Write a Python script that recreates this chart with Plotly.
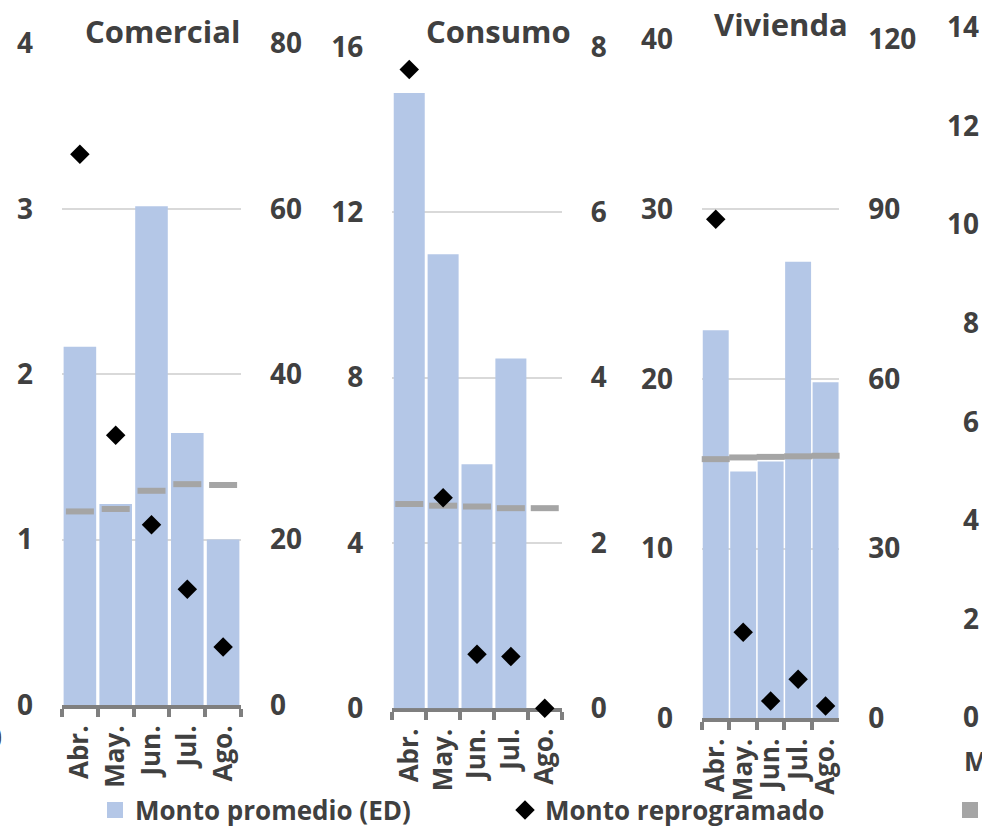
import plotly.graph_objects as go

# Month categories shared by every panel
meses = ["Abr.", "May.", "Jun.", "Jul.", "Ago."]

# Comercial
com_promedio = [43.3, 24.3, 60.3, 32.9, 20.0]   # right axis (ED)
com_reprog = [3.33, 1.63, 1.09, 0.70, 0.35]     # left axis
com_ref = [23.4, 23.7, 25.9, 26.7, 26.6]        # right axis (ED)

# Consumo
con_promedio = [7.44, 5.49, 2.95, 4.23, None]
con_reprog = [15.45, 5.09, 1.31, 1.25, 0.0]
con_ref = [2.47, 2.45, 2.44, 2.42, 2.42]

# Vivienda
viv_promedio = [68.6, 43.6, 45.4, 80.7, 59.4]
viv_reprog = [29.4, 5.07, 1.02, 2.30, 0.72]
viv_ref = [45.8, 46.1, 46.2, 46.3, 46.4]

titulos = ["Comercial", "Consumo", "Vivienda"]
rango_izq = [(4, 1), (16, 4), (40, 10)]
rango_der = [(80, 20), (8, 2), (120, 30)]

W, H = 982, 829
FONT = "Open Sans"
TXT = "#404040"
AZUL = "#B4C7E7"
GRIS = "#A5A5A5"
EJE = "#7F7F7F"

# plot boxes in pixels: left, right, top, bottom
cajas = [(62, 241, 43.3, 705), (392.3, 561.7, 46.7, 708.3), (702, 839.3, 39.3, 718.3)]
anchos = [0.91, 0.915, 0.945]
titulo_pos = [(242, 31), (573, 31), (850, 24)]


def fx(p):
    return p / W


def fy(p):
    return 1 - p / H


series = [
    (com_promedio, com_reprog, com_ref),
    (con_promedio, con_reprog, con_ref),
    (viv_promedio, viv_reprog, viv_ref),
]

fig = go.Figure()
layout = {}
annotations = []

for i, (prom, reprog, ref) in enumerate(series):
    n = i + 1
    xname = "x" if n == 1 else f"x{n}"
    ybase = "y" if n == 1 else f"y{2 * i + 1}"
    yover = f"y{2 * i + 2}"
    fig.add_trace(go.Bar(
        x=meses, y=prom, xaxis=xname, yaxis=ybase, width=anchos[i],
        marker=dict(color=AZUL, line=dict(width=0)), showlegend=False,
        name="Monto promedio (ED)"))
    fig.add_trace(go.Scatter(
        x=meses, y=ref, xaxis=xname, yaxis=ybase, mode="markers",
        marker=dict(symbol="line-ew", size=20, line=dict(width=6, color=GRIS), color=GRIS),
        showlegend=False, cliponaxis=False))
    fig.add_trace(go.Scatter(
        x=meses, y=reprog, xaxis=xname, yaxis=yover, mode="markers",
        marker=dict(symbol="diamond", size=15, color="black"),
        showlegend=False, cliponaxis=False, name="Monto reprogramado"))

    l, r, t, b = cajas[i]
    xkey = "xaxis" if n == 1 else f"xaxis{n}"
    ybkey = "yaxis" if n == 1 else f"yaxis{2 * i + 1}"
    yokey = f"yaxis{2 * i + 2}"
    layout[xkey] = dict(
        domain=[fx(l), fx(r)], anchor=ybase, type="category", range=[-0.5, 4.5],
        tickmode="array", tickvals=meses, ticktext=meses,
        showline=True, linewidth=4, linecolor=EJE, ticks="outside",
        tickson="boundaries", ticklen=8, tickwidth=4, tickcolor=EJE,
        tickangle=-90, tickfont=dict(family=FONT, size=26, color=TXT, weight="bold"),
        showgrid=False, zeroline=False, ticklabelstandoff=6, automargin=False,
        layer="below traces" if n == 2 else "above traces")
    top_d, dt_d = rango_der[i]
    top_i, dt_i = rango_izq[i]
    layout[ybkey] = dict(
        domain=[fy(b), fy(t)], anchor=xname, side="right", range=[0, top_d],
        dtick=dt_d, tick0=0, showgrid=True, gridcolor="#D9D9D9", gridwidth=2,
        zeroline=False, showline=False, automargin=False,
        tickfont=dict(family=FONT, size=28, color=TXT, weight="bold"),
        ticklabelstandoff=28)
    layout[yokey] = dict(
        overlaying=ybase, anchor=xname, side="left", range=[0, top_i],
        dtick=dt_i, tick0=0, showgrid=False, zeroline=False, showline=False,
        automargin=False,
        tickfont=dict(family=FONT, size=28, color=TXT, weight="bold"),
        ticklabelstandoff=28)
    tx, ty = titulo_pos[i]
    annotations.append(dict(
        text=titulos[i], xref="paper", yref="paper", x=fx(tx), y=fy(ty),
        xanchor="right", yanchor="middle", showarrow=False,
        font=dict(family=FONT, size=31, color=TXT, weight="bold")))

# Fourth panel, only its left axis shows at the edge
fig.add_trace(go.Scatter(x=[None], y=[None], xaxis="x4", yaxis="y7",
                         showlegend=False, hoverinfo="skip"))
layout["xaxis4"] = dict(domain=[0.998, 1.0], anchor="y7", visible=False, range=[0, 1])
layout["yaxis7"] = dict(
    domain=[fy(717.5), fy(27.5)], anchor="x4", side="left", range=[0, 14],
    dtick=2, showgrid=False, zeroline=False, showline=False, automargin=False,
    tickfont=dict(family=FONT, size=28, color=TXT, weight="bold"))
annotations.append(dict(
    text="M", xref="paper", yref="paper", x=fx(962), y=fy(761), xanchor="left",
    yanchor="middle", showarrow=False,
    font=dict(family=FONT, size=26, color=TXT, weight="bold")))
annotations.append(dict(
    text="0", xref="paper", yref="paper", x=fx(4), y=fy(737), xanchor="right",
    yanchor="middle", showarrow=False,
    font=dict(family=FONT, size=28, color=TXT, weight="bold")))

# Legend entries, one legend box each
leyendas = [
    ("Monto promedio (ED)", "square", AZUL, "legend", 95),
    ("Monto reprogramado", "diamond", "black", "legend2", 505),
    ("Monto promedio 2019 (ED)", "square", GRIS, "legend3", 950),
]
for nombre, simbolo, color, leg, x0 in leyendas:
    fig.add_trace(go.Scatter(
        x=[None], y=[None], mode="markers", name=nombre, legend=leg,
        marker=dict(symbol=simbolo, size=16 if simbolo == "square" else 15, color=color),
        showlegend=True))
    layout[leg] = dict(
        x=fx(x0), y=fy(810), xanchor="left", yanchor="middle",
        orientation="h", bgcolor="rgba(0,0,0,0)",
        font=dict(family=FONT, size=26, color=TXT, weight="bold"))

fig.update_layout(
    width=W, height=H, margin=dict(l=0, r=0, t=0, b=0, autoexpand=False),
    paper_bgcolor="white", plot_bgcolor="white", annotations=annotations,
    **layout)

fig.write_html("out.html")
